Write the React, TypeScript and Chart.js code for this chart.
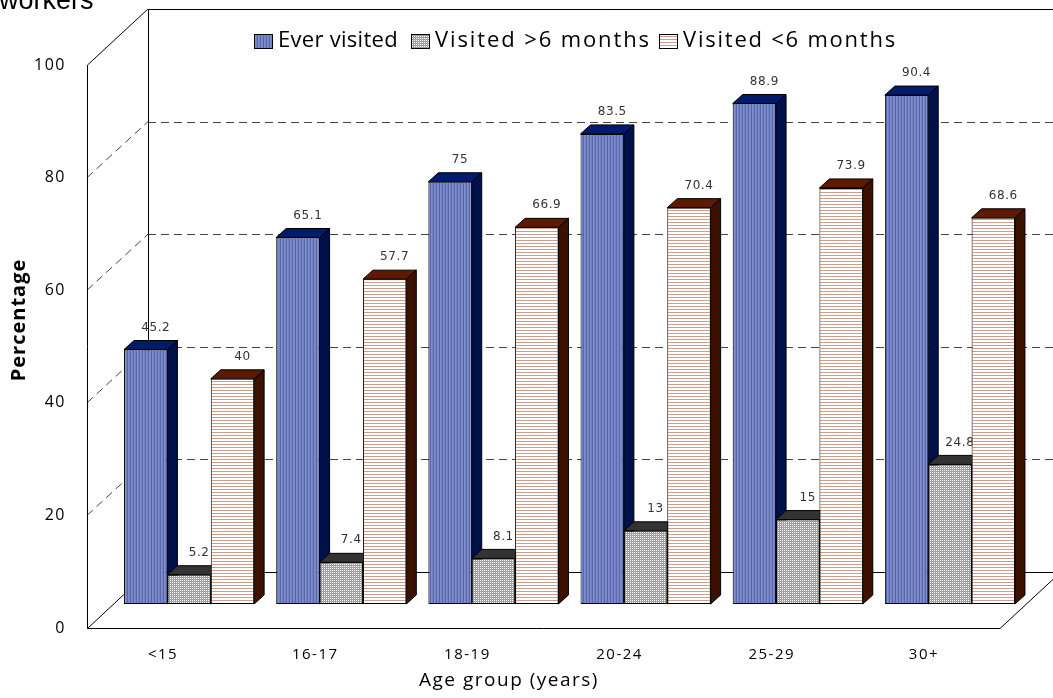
import React, { useEffect, useRef } from "react";
import { Chart, registerables } from "chart.js";

Chart.register(...registerables);

const categories = ["<15", "16-17", "18-19", "20-24", "25-29", "30+"];
const everVisited = [45.2, 65.1, 75, 83.5, 88.9, 90.4];
const visitedOver6 = [5.2, 7.4, 8.1, 13, 15, 24.8];
const visitedUnder6 = [40, 57.7, 66.9, 70.4, 73.9, 68.6];
const seriesLabels = ["Ever visited", "Visited >6 months", "Visited <6 months"];
const yMin = 0;
const yMax = 100;
const yStep = 20;
const xTitle = "Age group (years)";
const yTitle = "Percentage";
const cutTitle = "workers";

const FONT = "'Open Sans', Lato, sans-serif";
const DEPTH = { x: 61, y: 56 };
const SHIFT = { x: 26, y: 24 };
const CAP = { x: 10, y: 9 };
const sideColors = ["#00114A", "#1A1A1A", "#3D1100"];
const topColors = ["#001B6B", "#333333", "#5E1A00"];
const legendBoxX = [254, 411, 659];
const legendTextW = [120, 216, 214];

function makePattern(w: number, h: number, draw: (g: CanvasRenderingContext2D) => void) {
  const c = document.createElement("canvas");
  c.width = w;
  c.height = h;
  const g = c.getContext("2d")!;
  draw(g);
  return g.createPattern(c, "repeat")!;
}

function px(g: CanvasRenderingContext2D, x: number, y: number, col: string) {
  g.fillStyle = col;
  g.fillRect(x, y, 1, 1);
}

export default function App() {
  const ref = useRef<HTMLCanvasElement | null>(null);

  useEffect(() => {
    const blue = makePattern(3, 1, (g) => {
      px(g, 0, 0, "#7F8FCE");
      px(g, 1, 0, "#7282C2");
      px(g, 2, 0, "#5767A9");
    });
    const grey = makePattern(2, 2, (g) => {
      px(g, 0, 0, "#FFFFFF");
      px(g, 1, 0, "#9A9A9A");
      px(g, 0, 1, "#9A9A9A");
      px(g, 1, 1, "#A8A8A8");
    });
    const pink = makePattern(1, 3, (g) => {
      px(g, 0, 0, "#D09C8C");
      px(g, 0, 1, "#FFFFFF");
      px(g, 0, 2, "#FFFFFF");
    });
    const patterns = [blue, grey, pink];

    const threeD = {
      id: "threeD",
      beforeDraw(chart: any) {
        (chart.ctx as any).letterSpacing = "1.5px";
      },
      afterDraw(chart: any) {
        (chart.ctx as any).letterSpacing = "0px";
      },
      beforeDatasetsDraw(chart: any) {
        const ctx: CanvasRenderingContext2D = chart.ctx;
        const { left, right } = chart.chartArea;
        const ys = chart.scales.y;
        const W = chart.width;
        const y0 = ys.getPixelForValue(yMin);
        const y100 = ys.getPixelForValue(yMax);
        const r = (v: number) => Math.round(v) + 0.5;

        ctx.save();
        (ctx as any).letterSpacing = "0px";
        // title fragment
        ctx.fillStyle = "#000";
        ctx.font = "27px 'Liberation Sans', Arial, sans-serif";
        ctx.textBaseline = "alphabetic";
        ctx.textAlign = "left";
        ctx.fillText(cutTitle, -1, 9);

        // dashed grid on back wall and left wall
        ctx.strokeStyle = "#444";
        ctx.lineWidth = 1;
        ctx.setLineDash([8, 5]);
        for (let v = yMin + yStep; v < yMax; v += yStep) {
          const yf = ys.getPixelForValue(v);
          ctx.beginPath();
          ctx.moveTo(left + DEPTH.x, r(yf - DEPTH.y));
          ctx.lineTo(W + 5, r(yf - DEPTH.y));
          ctx.stroke();
          ctx.beginPath();
          ctx.moveTo(left, yf);
          ctx.lineTo(left + DEPTH.x, yf - DEPTH.y);
          ctx.stroke();
        }
        ctx.setLineDash([]);
        ctx.strokeStyle = "#000";
        // back wall frame
        ctx.beginPath();
        ctx.moveTo(W + 5, r(y100 - DEPTH.y));
        ctx.lineTo(r(left + DEPTH.x), r(y100 - DEPTH.y));
        ctx.lineTo(r(left + DEPTH.x), r(y0 - DEPTH.y));
        ctx.lineTo(W + 5, r(y0 - DEPTH.y));
        ctx.stroke();
        // left wall
        ctx.beginPath();
        ctx.moveTo(left + DEPTH.x, y100 - DEPTH.y);
        ctx.lineTo(r(left), y100);
        ctx.lineTo(r(left), r(y0));
        ctx.lineTo(left + DEPTH.x, y0 - DEPTH.y);
        ctx.stroke();
        // floor front edge
        ctx.beginPath();
        ctx.moveTo(r(left), r(y0));
        ctx.lineTo(right, r(y0));
        ctx.lineTo(right + DEPTH.x, y0 - DEPTH.y);
        ctx.stroke();

        // bars
        const n = chart.data.labels.length;
        const nd = chart.data.datasets.length;
        for (let i = 0; i < n; i++) {
          for (let d = 0; d < nd; d++) {
            const el = chart.getDatasetMeta(d).data[i];
            const { x, y, base, width } = el.getProps(["x", "y", "base", "width"], true);
            const l = x - width / 2 + SHIFT.x;
            const rr = x + width / 2 + SHIFT.x;
            const t = y - SHIFT.y;
            const b = base - SHIFT.y;
            ctx.lineWidth = 1;
            ctx.strokeStyle = "#000";
            // side
            ctx.beginPath();
            ctx.moveTo(rr, t);
            ctx.lineTo(rr + CAP.x, t - CAP.y);
            ctx.lineTo(rr + CAP.x, b - CAP.y);
            ctx.lineTo(rr, b);
            ctx.closePath();
            ctx.fillStyle = sideColors[d];
            ctx.fill();
            ctx.stroke();
            // top
            ctx.beginPath();
            ctx.moveTo(l, t);
            ctx.lineTo(l + CAP.x, t - CAP.y);
            ctx.lineTo(rr + CAP.x, t - CAP.y);
            ctx.lineTo(rr, t);
            ctx.closePath();
            ctx.fillStyle = topColors[d];
            ctx.fill();
            ctx.stroke();
            // front (library element)
            ctx.save();
            ctx.translate(SHIFT.x, -SHIFT.y);
            el.draw(ctx);
            ctx.restore();
            // value label
            ctx.save();
            ctx.fillStyle = "#333";
            ctx.font = "12px 'DejaVu Sans', Verdana, sans-serif";
            (ctx as any).letterSpacing = "0.6px";
            ctx.textAlign = "center";
            ctx.textBaseline = "middle";
            const val = chart.data.datasets[d].data[i];
            ctx.fillText(String(val), x + SHIFT.x + CAP.x, t - 22);
            ctx.restore();
          }
        }

        // legend
        ctx.font = `22px ${FONT}`;
        ctx.textBaseline = "middle";
        ctx.textAlign = "left";
        const boxW = 18, boxH = 14;
        const ly = 41;
        for (let d = 0; d < nd; d++) {
          const lx = legendBoxX[d];
          ctx.fillStyle = patterns[d];
          ctx.fillRect(lx, ly - boxH / 2, boxW, boxH);
          ctx.strokeStyle = "#000";
          ctx.strokeRect(Math.round(lx) + 0.5, Math.round(ly - boxH / 2) + 0.5, boxW, boxH);
          ctx.fillStyle = "#000";
          const label = chart.data.datasets[d].label;
          (ctx as any).letterSpacing = "0px";
          const w0 = ctx.measureText(label).width;
          const sp = Math.max(0, (legendTextW[d] - w0) / label.length);
          (ctx as any).letterSpacing = `${sp.toFixed(2)}px`;
          ctx.fillText(label, lx + boxW + 6, ly);
        }

        // axis titles
        ctx.fillStyle = "#000";
        ctx.font = `19px ${FONT}`;
        (ctx as any).letterSpacing = "1.5px";
        ctx.textAlign = "center";
        ctx.fillText(xTitle, 509, 681);
        ctx.save();
        ctx.translate(19, 320);
        ctx.rotate(-Math.PI / 2);
        ctx.font = `bold 20px ${FONT}`;
        (ctx as any).letterSpacing = "1px";
        ctx.fillText(yTitle, 0, 0);
        ctx.restore();

        ctx.restore();
        return false;
      },
    };

    const chart = new Chart(ref.current!, {
      type: "bar",
      data: {
        labels: categories,
        datasets: [everVisited, visitedOver6, visitedUnder6].map((data, d) => ({
          label: seriesLabels[d],
          data,
          backgroundColor: patterns[d],
          borderColor: "#000",
          borderWidth: 1,
          borderSkipped: false,
          categoryPercentage: 0.855,
          barPercentage: 1,
        })),
      },
      options: {
        animation: false,
        responsive: true,
        maintainAspectRatio: false,
        events: [],
        layout: { padding: { top: 65, right: 53, left: 0, bottom: 0 } },
        plugins: { legend: { display: false }, tooltip: { enabled: false }, title: { display: false } },
        scales: {
          x: {
            grid: { display: false, drawTicks: false },
            border: { display: false },
            ticks: { color: "#000", font: { family: FONT, size: 15 }, padding: 18, maxRotation: 0 },
            afterFit: (s: any) => {
              s.height = 70;
            },
          },
          y: {
            min: yMin,
            max: yMax,
            grid: { display: false, drawTicks: false },
            border: { display: false },
            ticks: { stepSize: yStep, color: "#000", font: { family: FONT, size: 16 }, padding: 21 },
            afterFit: (s: any) => {
              s.width = 87;
            },
          },
        },
      },
      plugins: [threeD],
    } as any);
    return () => chart.destroy();
  }, []);

  return (
    <div style={{ position: "fixed", left: 0, top: 0, width: 1053, height: 698, background: "#fff" }}>
      <canvas ref={ref} />
    </div>
  );
}
